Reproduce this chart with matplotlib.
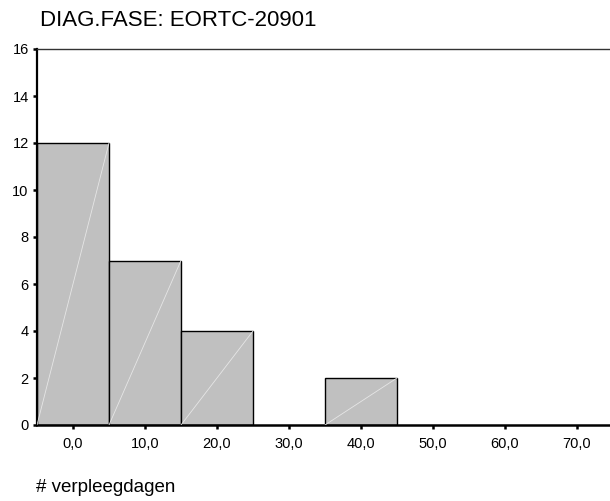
import matplotlib
matplotlib.use("Agg")
import matplotlib.pyplot as plt

plt.rcParams['font.family'] = ['Liberation Sans', 'DejaVu Sans']

bin_left = [-5, 5, 15, 25, 35, 45, 55, 65]
counts = [12, 7, 4, 0, 2, 0, 0, 0]
bin_width = 10
xticks = [0, 10, 20, 30, 40, 50, 60, 70]
xticklabels = ["0,0", "10,0", "20,0", "30,0", "40,0", "50,0", "60,0", "70,0"]
yticks = [0, 2, 4, 6, 8, 10, 12, 14, 16]
title = "DIAG.FASE: EORTC-20901"
xlabel = "# verpleegdagen"

fig = plt.figure(figsize=(6.10, 5.01), dpi=100)
ax = fig.add_axes([37/610, 1-425/501, 576/610, 376/501])

for l, c in zip(bin_left, counts):
    if c > 0:
        ax.bar(l, c, width=bin_width, align='edge', color='#c0c0c0',
               edgecolor='black', linewidth=1.0, zorder=2)
        ax.plot([l, l + bin_width], [0, c], color='#e6e6e6', linewidth=0.6, zorder=3)

ax.set_xlim(-5, 75)
ax.set_ylim(0, 16)
ax.set_xticks(xticks)
ax.set_xticklabels(xticklabels)
ax.set_yticks(yticks)
ax.set_yticklabels([str(v) for v in yticks])
ax.tick_params(axis='both', labelsize=10.5, length=3, width=1.8, color='black')
ax.tick_params(axis='x', pad=6)
ax.tick_params(axis='y', pad=3)

ax.spines['right'].set_visible(False)
ax.spines['left'].set_linewidth(1.6)
ax.spines['bottom'].set_linewidth(1.8)
ax.spines['top'].set_linewidth(1.0)
ax.spines['top'].set_color('#333333')

fig.text(40/610, 1-20/501, title, fontsize=16, ha='left', va='center')
fig.text(36/610, 1-488/501, xlabel, fontsize=13.5, ha='left', va='center')

fig.savefig("out.png", dpi=100)
